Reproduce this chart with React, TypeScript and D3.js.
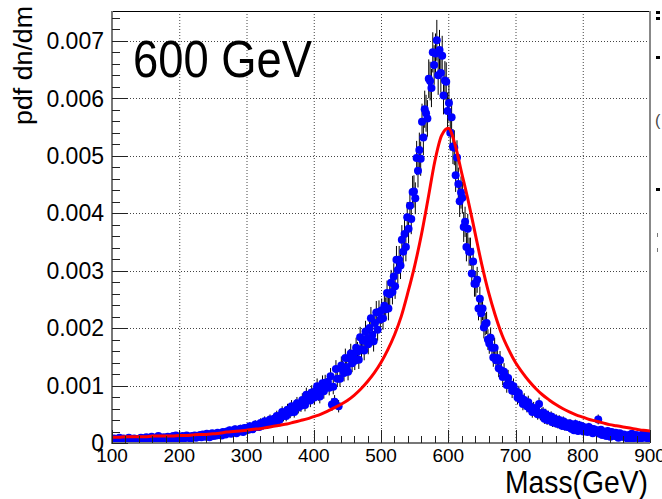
import React from "react";
import * as d3 from "d3";

// ---- data ----
const binStart = 100;
const binWidth = 2;
// blue histogram: pdf per 2 GeV bin, bins from 100 to 900 GeV (20 bins per row = 40 GeV)
const histValues: number[] = [
  0.00005, 0.00008, 0.00004, 0.00007, 0.00006, 0.00009, 0.00005, 0.00006, 0.00008, 0.00004, 0.00007, 0.00005, 0.00009, 0.00006, 0.00007, 0.00005, 0.00008, 0.00006, 0.00004, 0.00007,
  0.00006, 0.00009, 0.00007, 0.00005, 0.00008, 0.0001, 0.00006, 0.00008, 0.00007, 0.00011, 0.00005, 0.00009, 0.00007, 0.00008, 0.00012, 0.00006, 0.00009, 0.00008, 0.0001, 0.00007,
  0.00008, 0.00011, 0.00007, 0.0001, 0.00009, 0.00012, 0.00008, 0.00013, 0.0001, 0.00007, 0.00011, 0.00009, 0.00012, 0.00008, 0.0001, 0.00013, 0.00009, 0.00011, 0.00008, 0.00012,
  0.0001, 0.00013, 0.00009, 0.00012, 0.00011, 0.00014, 0.0001, 0.00015, 0.00012, 0.00011, 0.00016, 0.00013, 0.0001, 0.00014, 0.00017, 0.00012, 0.00015, 0.00013, 0.00018, 0.00014,
  0.00016, 0.00013, 0.00019, 0.00017, 0.00015, 0.0002, 0.00018, 0.00022, 0.00016, 0.00021, 0.00019, 0.00024, 0.00017, 0.00022, 0.0002, 0.00025, 0.00021, 0.00019, 0.00026, 0.00023,
  0.00026, 0.00023, 0.00029, 0.00027, 0.00024, 0.00027, 0.00032, 0.00028, 0.00031, 0.00028, 0.00035, 0.00033, 0.00031, 0.00038, 0.00034, 0.00032, 0.00038, 0.00041, 0.00036, 0.00039,
  0.00042, 0.00038, 0.00047, 0.00045, 0.0004, 0.00046, 0.00054, 0.00047, 0.00053, 0.00047, 0.00058, 0.00055, 0.00053, 0.00064, 0.00058, 0.00054, 0.00065, 0.00069, 0.00062, 0.00067,
  0.00065, 0.00075, 0.00072, 0.00066, 0.00084, 0.00074, 0.00081, 0.00074, 0.00088, 0.00083, 0.00079, 0.00091, 0.00099, 0.00086, 0.00081, 0.00096, 0.00104, 0.0009, 0.00105, 0.00099,
  0.00106, 0.00096, 0.00116, 0.00067, 0.00098, 0.00072, 0.00129, 0.00112, 0.00064, 0.00112, 0.00135, 0.00128, 0.00122, 0.00148, 0.00132, 0.00124, 0.00147, 0.00156, 0.00139, 0.00149,
  0.00143, 0.00166, 0.00159, 0.00145, 0.00184, 0.00163, 0.00178, 0.00161, 0.00194, 0.00182, 0.00172, 0.002, 0.00217, 0.00188, 0.00177, 0.00209, 0.00227, 0.00197, 0.00228, 0.00215,
  0.00231, 0.00217, 0.00239, 0.00233, 0.00261, 0.00234, 0.00259, 0.00279, 0.00263, 0.0029, 0.00273, 0.00319, 0.00301, 0.00319, 0.00309, 0.00354, 0.00333, 0.00364, 0.00341, 0.00393,
  0.00373, 0.00413, 0.0039, 0.00437, 0.00438, 0.00426, 0.00496, 0.00474, 0.0051, 0.00495, 0.00559, 0.00532, 0.00581, 0.00574, 0.00565, 0.00634, 0.0063, 0.00618, 0.0068, 0.00658,
  0.00678, 0.00701, 0.0064, 0.00684, 0.00644, 0.00674, 0.00605, 0.00631, 0.00629, 0.00578, 0.00592, 0.0054, 0.00567, 0.00516, 0.00514, 0.00466, 0.00497, 0.00451, 0.00421, 0.00436,
  0.00427, 0.00376, 0.00385, 0.00341, 0.00373, 0.00333, 0.00333, 0.00295, 0.00316, 0.00277, 0.00277, 0.00284, 0.00234, 0.00251, 0.00226, 0.00234, 0.00201, 0.00207, 0.00209, 0.0018,
  0.00173, 0.00183, 0.00166, 0.00149, 0.00166, 0.00144, 0.00148, 0.0013, 0.00144, 0.00126, 0.00115, 0.00124, 0.00116, 0.00101, 0.00113, 0.001, 0.00102, 0.00091, 0.00099, 0.0009,
  0.0009, 0.00079, 0.00087, 0.00076, 0.00078, 0.00068, 0.00075, 0.00069, 0.00064, 0.00071, 0.0006, 0.00063, 0.00054, 0.00061, 0.00055, 0.00057, 0.0005, 0.00068, 0.00049, 0.00051,
  0.00053, 0.00042, 0.0005, 0.0004, 0.00047, 0.00039, 0.00046, 0.00036, 0.00043, 0.00035, 0.00041, 0.00033, 0.0004, 0.00034, 0.0003, 0.00038, 0.00029, 0.00035, 0.00028, 0.00033,
  0.00034, 0.00025, 0.0003, 0.00022, 0.00033, 0.00027, 0.00021, 0.00031, 0.00024, 0.00029, 0.0002, 0.00027, 0.00023, 0.00019, 0.00028, 0.00021, 0.00025, 0.00017, 0.00024, 0.0002,
  0.00022, 0.00041, 0.00016, 0.00023, 0.00014, 0.0002, 0.00018, 0.00012, 0.00021, 0.00015, 0.00011, 0.00019, 0.00016, 0.00012, 0.00018, 0.00013, 0.00009, 0.00017, 0.00014, 0.00011,
  0.00015, 0.0001, 0.00013, 0.00007, 0.00014, 0.00011, 0.00016, 0.00008, 0.00012, 0.00014, 0.00009, 0.00013, 0.00006, 0.00011, 0.00015, 0.00009, 0.00012, 0.00014, 0.00008, 0.00012,
];

// red fitted curve, sampled every 10 GeV
const curveMass: number[] = [
  100, 110, 120, 130, 140, 150, 160, 170, 180, 190, 200, 210, 220, 230, 240, 250, 260, 270, 280, 290,
  300, 310, 320, 330, 340, 350, 360, 370, 380, 390, 400, 410, 420, 430, 440, 450, 460, 470, 480, 490,
  500, 510, 520, 530, 540, 550, 560, 570, 580, 590, 600, 610, 620, 630, 640, 650, 660, 670, 680, 690,
  700, 710, 720, 730, 740, 750, 760, 770, 780, 790, 800, 810, 820, 830, 840, 850, 860, 870, 880, 890, 900,
];
const curveValues: number[] = [
  0.0001, 0.0001, 0.00011, 0.00011, 0.00011, 0.00011, 0.00012, 0.00012, 0.00012, 0.00012,
  0.00013, 0.00013, 0.00014, 0.00015, 0.00015, 0.00016, 0.00017, 0.00019, 0.0002, 0.00021,
  0.00022, 0.00024, 0.00025, 0.00027, 0.00029, 0.00031, 0.00033, 0.00036, 0.00039, 0.00042,
  0.00046, 0.0005, 0.00055, 0.00061, 0.00067, 0.00074, 0.00083, 0.00094, 0.00107, 0.00122,
  0.0014, 0.00162, 0.00188, 0.0022, 0.00262, 0.00308, 0.00362, 0.00425, 0.0049, 0.00535,
  0.00548, 0.0052, 0.0047, 0.0042, 0.00365, 0.0031, 0.00262, 0.00222, 0.00188, 0.00162,
  0.0014, 0.00123, 0.00108, 0.00095, 0.00084, 0.00075, 0.00067, 0.0006, 0.00054, 0.00049,
  0.00045, 0.00041, 0.00038, 0.00035, 0.00032, 0.0003, 0.00028, 0.00026, 0.00024, 0.00022, 0.00021,
];

const xTickValues = [100, 200, 300, 400, 500, 600, 700, 800, 900];
const yTickValues = [0, 0.001, 0.002, 0.003, 0.004, 0.005, 0.006, 0.007];
const yTickLabels = ["0", "0.001", "0.002", "0.003", "0.004", "0.005", "0.006", "0.007"];

const titleText = "600 GeV";
const xTitle = "Mass(GeV)";
const yTitle = "pdf dn/dm";

export default function App() {
  const W = 662;
  const H = 499;
  const L = 112, R = 650, T = 11, B = 443;
  const x = d3.scaleLinear().domain([100, 900]).range([L, R]);
  const y = d3.scaleLinear().domain([0, 0.00752]).range([B, T]);

  const xMinor = d3.range(100, 900.1, 20);
  const yMinor = d3.range(0, 0.00752, 0.0002);

  const points = histValues.map((v, i) => ({
    m: binStart + binWidth * (i + 0.5),
    v,
    e: Math.sqrt(v * 1.8e-5),
  }));

  const line = d3
    .line<number>()
    .x((_, i) => x(curveMass[i]))
    .y((d) => y(d))
    .curve(d3.curveMonotoneX);

  const font = "'Liberation Sans', Arial, sans-serif";

  return (
    <svg
      width={W}
      height={H}
      style={{ position: "absolute", left: 0, top: 0, background: "#fff" }}
      fontFamily={font}
    >
      <rect x={0} y={0} width={W} height={H} fill="#fff" />
      <defs>
        <clipPath id="plotclip">
          <rect x={L} y={T} width={R - L} height={B - T} />
        </clipPath>
      </defs>
      {/* grid */}
      <g stroke="#444" strokeWidth={1} strokeDasharray="1,2">
        {xTickValues.slice(1, -1).map((t) => (
          <line key={"gx" + t} x1={x(t) + 0.5} x2={x(t) + 0.5} y1={T} y2={B} />
        ))}
        {yTickValues.slice(1).map((t) => (
          <line key={"gy" + t} x1={L} x2={R} y1={Math.round(y(t)) + 0.5} y2={Math.round(y(t)) + 0.5} />
        ))}
      </g>
      {/* frame */}
      <line x1={L} x2={R} y1={T + 0.5} y2={T + 0.5} stroke="#000" strokeWidth={1} />
      <line x1={R} x2={R} y1={T} y2={B} stroke="#888" strokeWidth={2} />
      {/* data */}
      <g clipPath="url(#plotclip)">
        <g stroke="#000" strokeWidth={1}>
          {points.map((p, i) => (
            <line key={"e" + i} x1={x(p.m)} x2={x(p.m)} y1={y(p.v + p.e)} y2={y(p.v - p.e)} />
          ))}
        </g>
        <g fill="#0000ff">
          {points.map((p, i) => (
            <circle key={"c" + i} cx={x(p.m)} cy={y(p.v)} r={4} />
          ))}
        </g>
        <path d={line(curveValues) || ""} fill="none" stroke="#ff0000" strokeWidth={3} />
      </g>
      {/* axes */}
      <line x1={L} x2={L} y1={T} y2={B + 1} stroke="#777" strokeWidth={2} />
      <line x1={L - 1} x2={R} y1={B} y2={B} stroke="#777" strokeWidth={2} />
      <g stroke="#222" strokeWidth={1}>
        {yMinor.map((t, i) => (
          <line key={"ym" + i} x1={L} x2={L + 8} y1={Math.round(y(t)) + 0.5} y2={Math.round(y(t)) + 0.5} />
        ))}
        {yTickValues.map((t) => (
          <line key={"yM" + t} x1={L} x2={L + 16} y1={Math.round(y(t)) + 0.5} y2={Math.round(y(t)) + 0.5} />
        ))}
        {xMinor.map((t, i) => (
          <line key={"xm" + i} x1={Math.round(x(t)) + 0.5} x2={Math.round(x(t)) + 0.5} y1={B} y2={B - 7} />
        ))}
        {xTickValues.map((t) => (
          <line key={"xM" + t} x1={Math.round(x(t)) + 0.5} x2={Math.round(x(t)) + 0.5} y1={B} y2={B - 13} />
        ))}
      </g>
      {/* tick labels */}
      <g fontSize={19} fill="#000">
        {xTickValues.map((t) => (
          <text key={"xl" + t} x={x(t)} y={462} textAnchor="middle">
            {String(t)}
          </text>
        ))}
      </g>
      <g fontSize={23} fill="#000">
        {yTickValues.map((t, i) => (
          <text key={"yl" + t} x={104} y={y(t)} dy="0.36em" textAnchor="end">
            {yTickLabels[i]}
          </text>
        ))}
      </g>
      {/* titles */}
      <text x={133} y={77} fontSize={52} textLength={179} lengthAdjust="spacingAndGlyphs">
        {titleText}
      </text>
      <text x={505} y={493} fontSize={32} textLength={143} lengthAdjust="spacingAndGlyphs">
        {xTitle}
      </text>
      <text transform="translate(32,125) rotate(-90)" fontSize={25} textLength={119} lengthAdjust="spacingAndGlyphs">
        {yTitle}
      </text>
      {/* clipped legend fragments at right edge */}
      <g fill="#000">
        <rect x={656} y={11} width={4} height={3} />
        <rect x={656} y={17} width={4} height={3} />
        <rect x={656} y={56} width={4} height={3} />
        <rect x={656} y={188} width={4} height={3} />
        <rect x={657} y={233} width={1} height={4} fill="#777" />
        <rect x={657} y={248} width={1} height={4} fill="#777" />
      </g>
      <text x={655} y={126} fontSize={16} fill="#444">(</text>
    </svg>
  );
}
